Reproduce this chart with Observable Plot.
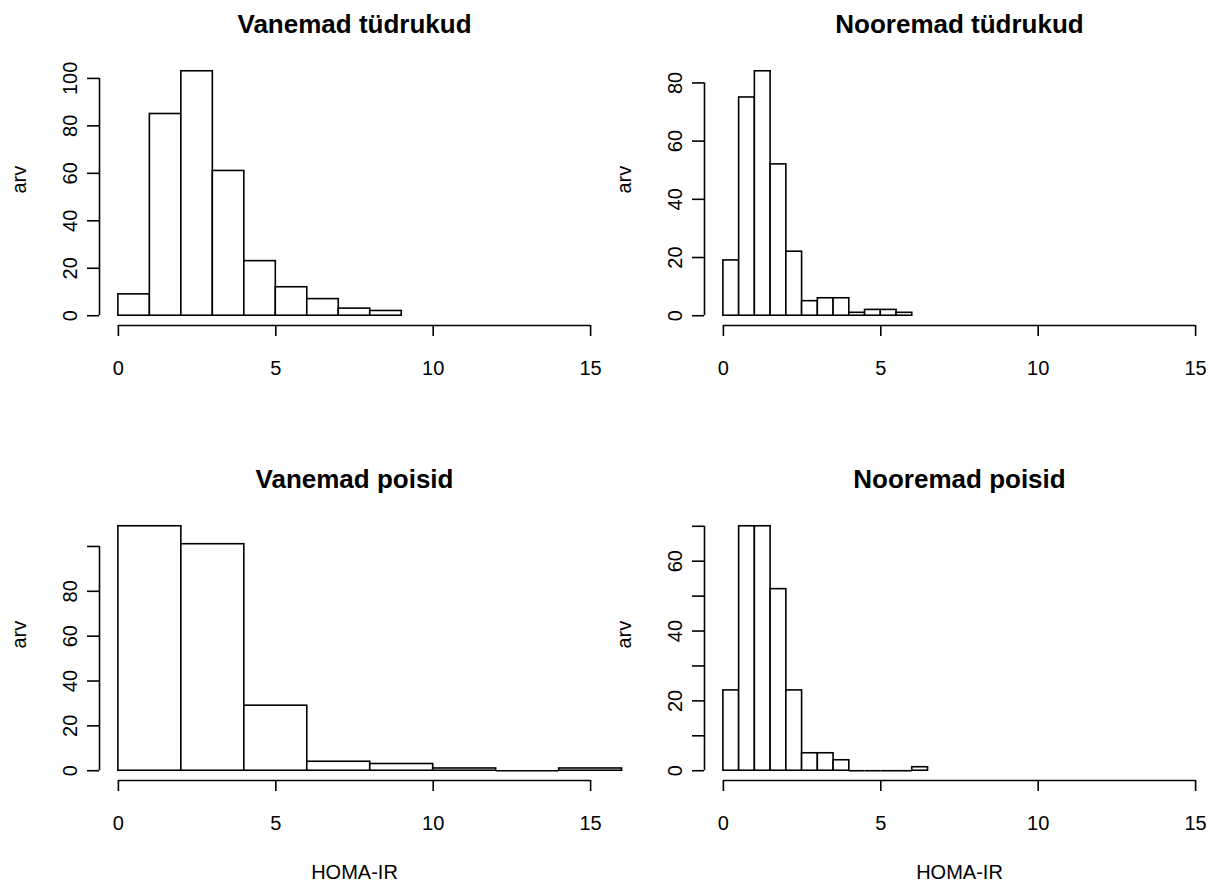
<!DOCTYPE html>
<html><head><meta charset="utf-8">
<script src="https://cdn.jsdelivr.net/npm/d3@7"></script>
<script src="https://cdn.jsdelivr.net/npm/@observablehq/plot@0.6"></script>
<style>
html,body{margin:0;padding:0;background:#fff;overflow:hidden;}
#chart{position:relative;width:1211px;height:881px;}
#chart svg{position:absolute;overflow:visible;}
</style></head><body><div id="chart"></div>
<script>
const titles = ["Vanemad tüdrukud", "Nooremad tüdrukud", "Vanemad poisid", "Nooremad poisid"];
const yLabel = "arv";
const xLabel = "HOMA-IR";

const breaksVT = [0, 1, 2, 3, 4, 5, 6, 7, 8, 9];
const countsVT = [9, 85, 103, 61, 23, 12, 7, 3, 2];

const breaksNT = [0, 0.5, 1, 1.5, 2, 2.5, 3, 3.5, 4, 4.5, 5, 5.5, 6];
const countsNT = [19, 75, 84, 52, 22, 5, 6, 6, 1, 2, 2, 1];

const breaksVP = [0, 2, 4, 6, 8, 10, 12, 14, 16];
const countsVP = [109, 101, 29, 4, 3, 1, 0, 1];

const breaksNP = [0, 0.5, 1, 1.5, 2, 2.5, 3, 3.5, 4, 4.5, 5, 5.5, 6, 6.5];
const countsNP = [23, 70, 70, 52, 23, 5, 5, 3, 0, 0, 0, 0, 1];

const xTicks = [0, 5, 10, 15];
const xlim = [0, 15];
const yTicksVT = [0, 20, 40, 60, 80, 100];
const yLabelsVT = [0, 20, 40, 60, 80, 100];
const yTicksNT = [0, 20, 40, 60, 80];
const yLabelsNT = [0, 20, 40, 60, 80];
const yTicksVP = [0, 20, 40, 60, 80, 100];
const yLabelsVP = [0, 20, 40, 60, 80];
const yTicksNP = [0, 10, 20, 30, 40, 50, 60, 70];
const yLabelsNP = [0, 20, 40, 60];

const SW = 1.6;
function panel(breaks, counts, yTicks, yLabs, title, showX) {
  const bins = counts.map((c, i) => ({x1: breaks[i], x2: breaks[i + 1], count: c}));
  const M = d3.max(counts);
  const ext = 0.04 * (xlim[1] - xlim[0]);
  const xd = [xlim[0] - ext, xlim[1] + ext];
  const yd = [-0.04 * M, 1.04 * M];
  return Plot.plot({
    width: 625, height: 455,
    marginLeft: 99, marginRight: 16, marginTop: 61, marginBottom: 130,
    x: {domain: xd},
    y: {domain: yd},
    style: {fontFamily: "'Liberation Sans', Arial, sans-serif", fontSize: "20px", background: "transparent", color: "black", overflow: "visible"},
    marks: [
      Plot.rect(bins, {x1: "x1", x2: "x2", y1: 0, y2: "count", fill: "white", stroke: "black", strokeWidth: SW}),
      Plot.ruleY(bins.filter(d => d.count === 0), {x1: "x1", x2: "x2", y: 0, stroke: "black", strokeWidth: SW}),
      Plot.ruleY([yd[0]], {x1: xTicks[0], x2: xTicks[xTicks.length - 1], stroke: "black", strokeWidth: SW}),
      Plot.axisX({ticks: xTicks, tickSize: 11, tickPadding: 24, label: null, tickFormat: d => String(d), strokeWidth: SW}),
      Plot.ruleX([xd[0]], {y1: yTicks[0], y2: yTicks[yTicks.length - 1], stroke: "black", strokeWidth: SW}),
      Plot.axisY({ticks: yTicks, tickSize: 12, tickPadding: 11, tickRotate: -90, label: null,
        tickFormat: d => yLabs.includes(d) ? String(d) : "", strokeWidth: SW}),
      Plot.text([title], {text: d => d, frameAnchor: "top", dy: -29, lineAnchor: "bottom", fontWeight: "bold", fontSize: 26}),
      Plot.text([yLabel], {text: d => d, frameAnchor: "left", rotate: -90, dx: -74, lineAnchor: "bottom"}),
      showX ? Plot.text([xLabel], {text: d => d, frameAnchor: "bottom", dy: 98, lineAnchor: "bottom"}) : null
    ]
  });
}

const chart = document.getElementById("chart");
const specs = [
  [breaksVT, countsVT, yTicksVT, yLabelsVT, titles[0], false, 0, 0],
  [breaksNT, countsNT, yTicksNT, yLabelsNT, titles[1], false, 605, 0],
  [breaksVP, countsVP, yTicksVP, yLabelsVP, titles[2], true, 0, 455],
  [breaksNP, countsNP, yTicksNP, yLabelsNP, titles[3], true, 605, 455]
];
for (const [b, c, yt, yl, t, sx, left, top] of specs) {
  const svg = panel(b, c, yt, yl, t, sx);
  svg.style.left = left + "px";
  svg.style.top = top + "px";
  chart.appendChild(svg);
}
</script>
</body></html>
